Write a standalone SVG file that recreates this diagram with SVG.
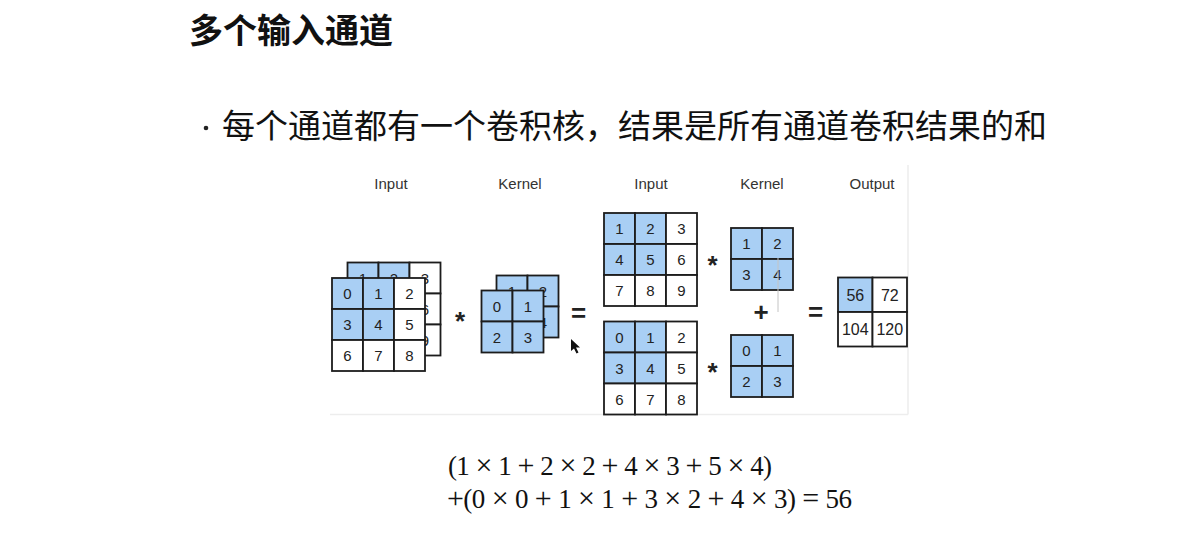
<svg xmlns="http://www.w3.org/2000/svg" width="1184" height="541" viewBox="0 0 1184 541">
<style>
.b{fill:#a9cff4;stroke:#1c1c1c;stroke-width:1.8}
.w{fill:#ffffff;stroke:#1c1c1c;stroke-width:1.8}
.n{font-family:"Liberation Sans",Arial,sans-serif;font-size:15px;fill:#222;text-anchor:middle}
.o{font-family:"Liberation Sans",Arial,sans-serif;font-size:16px;fill:#222;text-anchor:middle}
.lab{font-family:"Liberation Sans",Arial,sans-serif;font-size:15px;fill:#333;text-anchor:middle}
.op{font-family:"Liberation Sans",Arial,sans-serif;font-weight:bold;fill:#222;text-anchor:middle}
.cjk{font-family:"Noto Sans CJK SC","Noto Sans",sans-serif;fill:#111}
.math{font-family:"Liberation Serif","Times New Roman",serif;font-size:27px;fill:#111}
.big{font-size:30px}
</style>
<rect x="0" y="0" width="1184" height="541" fill="#ffffff"/>
<g id="frame" fill="none" stroke="#ededed" stroke-width="1.5">
<line x1="330" y1="414.5" x2="908" y2="414.5"/>
<line x1="908" y1="165" x2="908" y2="414.5"/>
</g>
<g id="title"><text class="cjk" x="189" y="43" font-size="34" font-weight="bold">多个输入通道</text></g>
<g id="bullet">
<circle cx="206" cy="128" r="2.3" fill="#222"/>
<text class="cjk" x="222" y="138" font-size="33">每个通道都有一个卷积核，结果是所有通道卷积结果的和</text>
</g>
<g id="labels">
<text class="lab" x="391" y="189">Input</text>
<text class="lab" x="520" y="189">Kernel</text>
<text class="lab" x="651" y="189">Input</text>
<text class="lab" x="762" y="189">Kernel</text>
<text class="lab" x="872" y="189">Output</text>
</g>
<g id="input-back">
<rect class="b" x="347.5" y="262.5" width="31" height="31"/><rect class="b" x="378.5" y="262.5" width="31" height="31"/><rect class="w" x="409.5" y="262.5" width="31" height="31"/>
<rect class="b" x="347.5" y="293.5" width="31" height="31"/><rect class="b" x="378.5" y="293.5" width="31" height="31"/><rect class="w" x="409.5" y="293.5" width="31" height="31"/>
<rect class="w" x="347.5" y="324.5" width="31" height="31"/><rect class="w" x="378.5" y="324.5" width="31" height="31"/><rect class="w" x="409.5" y="324.5" width="31" height="31"/>
<text class="n" x="363" y="283.5">1</text><text class="n" x="394" y="283.5">2</text><text class="n" x="425" y="283.5">3</text>
<text class="n" x="363" y="314.5">4</text><text class="n" x="394" y="314.5">5</text><text class="n" x="425" y="314.5">6</text>
<text class="n" x="363" y="345.5">7</text><text class="n" x="394" y="345.5">8</text><text class="n" x="425" y="345.5">9</text>
</g>
<g id="input-front">
<rect class="b" x="332" y="278" width="31" height="31"/><rect class="b" x="363" y="278" width="31" height="31"/><rect class="w" x="394" y="278" width="31" height="31"/>
<rect class="b" x="332" y="309" width="31" height="31"/><rect class="b" x="363" y="309" width="31" height="31"/><rect class="w" x="394" y="309" width="31" height="31"/>
<rect class="w" x="332" y="340" width="31" height="31"/><rect class="w" x="363" y="340" width="31" height="31"/><rect class="w" x="394" y="340" width="31" height="31"/>
<text class="n" x="347.5" y="299">0</text><text class="n" x="378.5" y="299">1</text><text class="n" x="409.5" y="299">2</text>
<text class="n" x="347.5" y="330">3</text><text class="n" x="378.5" y="330">4</text><text class="n" x="409.5" y="330">5</text>
<text class="n" x="347.5" y="361">6</text><text class="n" x="378.5" y="361">7</text><text class="n" x="409.5" y="361">8</text>
</g>
<g id="kernel-back">
<rect class="b" x="496.5" y="275.5" width="31" height="31"/><rect class="b" x="527.5" y="275.5" width="31" height="31"/>
<rect class="b" x="496.5" y="306.5" width="31" height="31"/><rect class="b" x="527.5" y="306.5" width="31" height="31"/>
<text class="n" x="512" y="296.5">1</text><text class="n" x="543" y="296.5">2</text>
<text class="n" x="512" y="327.5">3</text><text class="n" x="543" y="327.5">4</text>
</g>
<g id="kernel-front">
<rect class="b" x="481.5" y="290.5" width="31" height="31"/><rect class="b" x="512.5" y="290.5" width="31" height="31"/>
<rect class="b" x="481.5" y="321.5" width="31" height="31"/><rect class="b" x="512.5" y="321.5" width="31" height="31"/>
<text class="n" x="497" y="311.5">0</text><text class="n" x="528" y="311.5">1</text>
<text class="n" x="497" y="342.5">2</text><text class="n" x="528" y="342.5">3</text>
</g>
<g id="input-top">
<rect class="b" x="604" y="213" width="31" height="31"/><rect class="b" x="635" y="213" width="31" height="31"/><rect class="w" x="666" y="213" width="31" height="31"/>
<rect class="b" x="604" y="244" width="31" height="31"/><rect class="b" x="635" y="244" width="31" height="31"/><rect class="w" x="666" y="244" width="31" height="31"/>
<rect class="w" x="604" y="275" width="31" height="31"/><rect class="w" x="635" y="275" width="31" height="31"/><rect class="w" x="666" y="275" width="31" height="31"/>
<text class="n" x="619.5" y="234">1</text><text class="n" x="650.5" y="234">2</text><text class="n" x="681.5" y="234">3</text>
<text class="n" x="619.5" y="265">4</text><text class="n" x="650.5" y="265">5</text><text class="n" x="681.5" y="265">6</text>
<text class="n" x="619.5" y="296">7</text><text class="n" x="650.5" y="296">8</text><text class="n" x="681.5" y="296">9</text>
</g>
<g id="input-bottom">
<rect class="b" x="604" y="321.5" width="31" height="31"/><rect class="b" x="635" y="321.5" width="31" height="31"/><rect class="w" x="666" y="321.5" width="31" height="31"/>
<rect class="b" x="604" y="352.5" width="31" height="31"/><rect class="b" x="635" y="352.5" width="31" height="31"/><rect class="w" x="666" y="352.5" width="31" height="31"/>
<rect class="w" x="604" y="383.5" width="31" height="31"/><rect class="w" x="635" y="383.5" width="31" height="31"/><rect class="w" x="666" y="383.5" width="31" height="31"/>
<text class="n" x="619.5" y="342.5">0</text><text class="n" x="650.5" y="342.5">1</text><text class="n" x="681.5" y="342.5">2</text>
<text class="n" x="619.5" y="373.5">3</text><text class="n" x="650.5" y="373.5">4</text><text class="n" x="681.5" y="373.5">5</text>
<text class="n" x="619.5" y="404.5">6</text><text class="n" x="650.5" y="404.5">7</text><text class="n" x="681.5" y="404.5">8</text>
</g>
<g id="kernel-top">
<rect class="b" x="731" y="228" width="31" height="31"/><rect class="b" x="762" y="228" width="31" height="31"/>
<rect class="b" x="731" y="259" width="31" height="31"/><rect class="b" x="762" y="259" width="31" height="31"/>
<text class="n" x="746.5" y="249">1</text><text class="n" x="777.5" y="249">2</text>
<text class="n" x="746.5" y="280">3</text><text class="n" x="777.5" y="280">4</text>
</g>
<g id="kernel-bottom">
<rect class="b" x="731" y="335" width="31" height="31"/><rect class="b" x="762" y="335" width="31" height="31"/>
<rect class="b" x="731" y="366" width="31" height="31"/><rect class="b" x="762" y="366" width="31" height="31"/>
<text class="n" x="746.5" y="356">0</text><text class="n" x="777.5" y="356">1</text>
<text class="n" x="746.5" y="387">2</text><text class="n" x="777.5" y="387">3</text>
</g>
<g id="output">
<rect class="b" x="838" y="277.5" width="34.5" height="34.5"/><rect class="w" x="872.5" y="277.5" width="34.5" height="34.5"/>
<rect class="w" x="838" y="312" width="34.5" height="34.5"/><rect class="w" x="872.5" y="312" width="34.5" height="34.5"/>
<text class="o" x="855.3" y="300.5">56</text><text class="o" x="889.8" y="300.5">72</text>
<text class="o" x="855.3" y="335">104</text><text class="o" x="889.8" y="335">120</text>
</g>
<g id="operators">
<text class="op" x="460" y="330" font-size="26">*</text>
<text class="op" x="578.5" y="322" font-size="26">=</text>
<text class="op" x="712.5" y="274" font-size="26">*</text>
<text class="op" x="712.5" y="381" font-size="26">*</text>
<text class="op" x="761" y="321" font-size="26">+</text>
<text class="op" x="815.5" y="321" font-size="26">=</text>
</g>
<g id="connectors">
<line x1="778" y1="258" x2="778" y2="312" stroke="#c4c4c4" stroke-width="1"/>
</g>
<g id="cursor">
<polygon points="571,339 571,351 574,348.5 576.5,353.5 578.5,352.5 576,347.5 580,347.5" fill="#111"/>
</g>
<g id="formula">
<text class="math" x="448" y="475" textLength="324" lengthAdjust="spacing">(1<tspan class="big"> × </tspan>1<tspan class="big"> + </tspan>2<tspan class="big"> × </tspan>2<tspan class="big"> + </tspan>4<tspan class="big"> × </tspan>3<tspan class="big"> + </tspan>5<tspan class="big"> × </tspan>4)</text>
<text class="math" x="447" y="508" textLength="405" lengthAdjust="spacing"><tspan class="big">+</tspan>(0<tspan class="big"> × </tspan>0<tspan class="big"> + </tspan>1<tspan class="big"> × </tspan>1<tspan class="big"> + </tspan>3<tspan class="big"> × </tspan>2<tspan class="big"> + </tspan>4<tspan class="big"> × </tspan>3)<tspan class="big"> = </tspan>56</text>
</g>
</svg>
